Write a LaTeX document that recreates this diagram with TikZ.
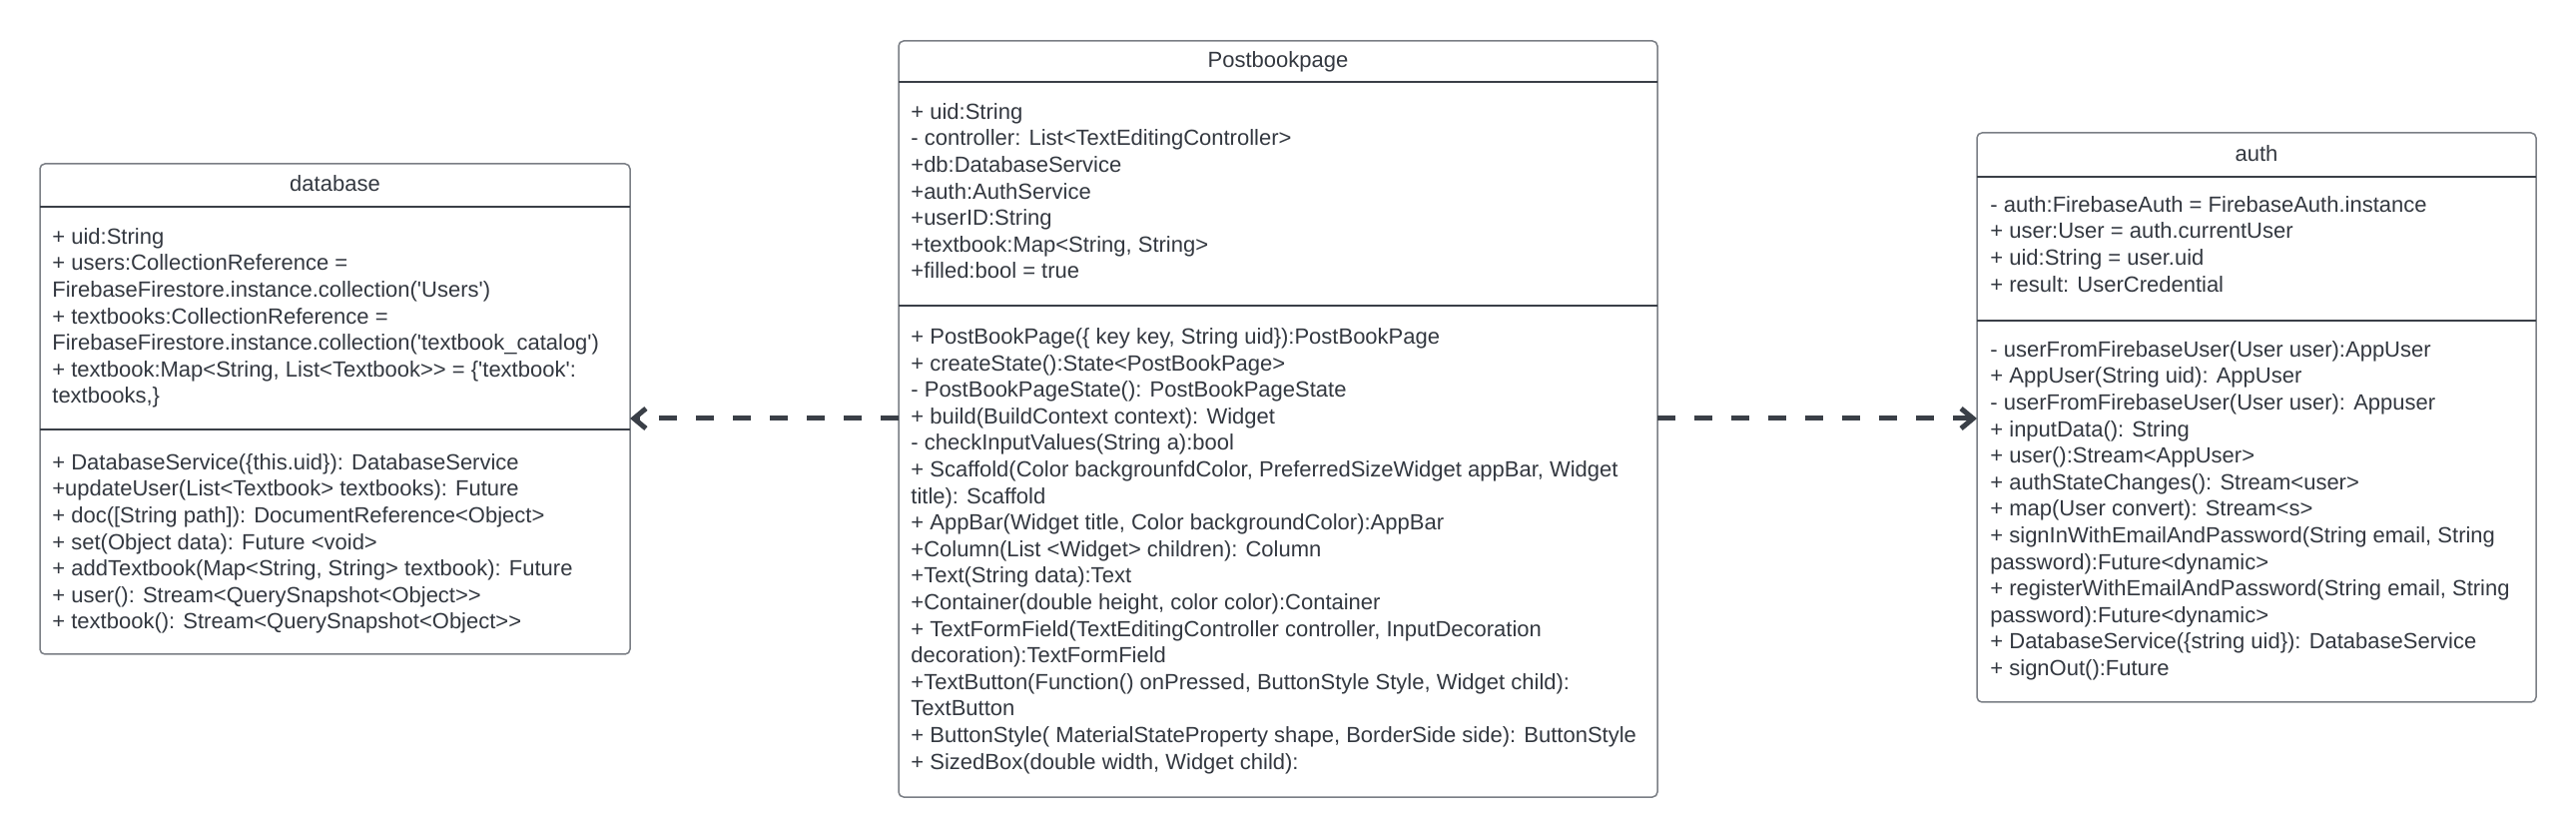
\documentclass[tikz,border=0pt]{standalone}
\usepackage{fontspec}
\setmainfont{Liberation Sans}
\usetikzlibrary{arrows.meta}
\definecolor{txt}{HTML}{333840}
\definecolor{bord}{HTML}{7A7E85}
\definecolor{sep}{HTML}{3A3F47}
\definecolor{arr}{HTML}{3A3F47}
\newcommand{\lnstrut}{\rule{0pt}{9pt}}
\begin{document}
\begin{tikzpicture}[x=0.5pt,y=-0.5pt,
 umlbox/.style={draw=bord, line width=0.75pt, rounded corners=2.5pt, inner sep=0pt, outer sep=0pt, anchor=north west, fill=white},
 clstitle/.style={anchor=base, inner sep=0pt, text=txt, font=\fontsize{11}{13.3}\selectfont},
 clsbody/.style={anchor=north west, inner sep=0pt, align=left, text=txt, font=\fontsize{11}{13.3}\selectfont},
 sepline/.style={draw=sep, line width=0.75pt},
 dep/.style={draw=arr, line width=2.5pt, dash pattern=on 9pt off 9.5pt, -{Straight Barb[length=6pt,width=10pt]}}
]
\useasboundingbox[fill=white] (0,0) rectangle (2580,838);

% boxes
\node[umlbox, minimum width=295.5pt, minimum height=245.5pt] (db) at (40,164) {};
\node[umlbox, minimum width=380pt, minimum height=378.5pt] (pb) at (900,41) {};
\node[umlbox, minimum width=280pt, minimum height=285pt] (au) at (1980,133) {};

% separator heights
\coordinate (dbh) at (0,207);
\coordinate (dbs) at (0,430);
\coordinate (pbh) at (0,82);
\coordinate (pbs) at (0,306);
\coordinate (auh) at (0,177);
\coordinate (aus) at (0,321);
\draw[sepline] (db.west |- dbh) -- (db.east |- dbh);
\draw[sepline] (db.west |- dbs) -- (db.east |- dbs);
\draw[sepline] (pb.west |- pbh) -- (pb.east |- pbh);
\draw[sepline] (pb.west |- pbs) -- (pb.east |- pbs);
\draw[sepline] (au.west |- auh) -- (au.east |- auh);
\draw[sepline] (au.west |- aus) -- (au.east |- aus);

% titles
\node[clstitle] (dbt) at (335.5,192) {database};
\node[clstitle] (pbt) at (1280,68) {Postbookpage};
\node[clstitle] (aut) at (2260,161.5) {auth};

% database
\node[clsbody] (dba) at (52,226) {\lnstrut+ uid:String\\
+ users:CollectionReference =\\
FirebaseFirestore.instance.collection(\textquotesingle Users\textquotesingle)\\
+ textbooks:CollectionReference =\\
FirebaseFirestore.instance.collection(\textquotesingle textbook\_catalog\textquotesingle)\\
+ textbook:Map<String, List<Textbook>{}> = \{\textquotesingle textbook\textquotesingle:\\
textbooks,\}};
\node[clsbody] (dbo) at (52,452) {\lnstrut+ DatabaseService(\{this.uid\}): DatabaseService\\
+updateUser(List<Textbook> textbooks): Future\\
+ doc([String path]): DocumentReference<Object>\\
+ set(Object data): Future <void>\\
+ addTextbook(Map<String, String> textbook): Future\\
+ user(): Stream<QuerySnapshot<Object>{}>\\
+ textbook(): Stream<QuerySnapshot<Object>{}>};

% Postbookpage
\node[clsbody] (pba) at (912,101) {\lnstrut+ uid:String\\
- controller: List<TextEditingController>\\
+db:DatabaseService\\
+auth:AuthService\\
+userID:String\\
+textbook:Map<String, String>\\
+filled:bool = true};
\node[clsbody] (pbo) at (912,326) {\lnstrut+ PostBookPage(\{ key key, String uid\}):PostBookPage\\
+ createState():State<PostBookPage>\\
- PostBookPageState(): PostBookPageState\\
+ build(BuildContext context): Widget\\
- checkInputValues(String a):bool\\
+ Scaffold(Color backgrounfdColor, PreferredSizeWidget appBar, Widget\\
title): Scaffold\\
+ AppBar(Widget title, Color backgroundColor):AppBar\\
+Column(List <Widget> children): Column\\
+Text(String data):Text\\
+Container(double height, color color):Container\\
+ TextFormField(TextEditingController controller, InputDecoration\\
decoration):TextFormField\\
+TextButton(Function() onPressed, ButtonStyle Style, Widget child):\\
TextButton\\
+ ButtonStyle( MaterialStateProperty shape, BorderSide side): ButtonStyle\\
+ SizedBox(double width, Widget child):};

% auth
\node[clsbody] (aua) at (1993,194) {\lnstrut- auth:FirebaseAuth = FirebaseAuth.instance\\
+ user:User = auth.currentUser\\
+ uid:String = user.uid\\
+ result: UserCredential};
\node[clsbody] (auo) at (1993,339) {\lnstrut- userFromFirebaseUser(User user):AppUser\\
+ AppUser(String uid): AppUser\\
- userFromFirebaseUser(User user): Appuser\\
+ inputData(): String\\
+ user():Stream<AppUser>\\
+ authStateChanges(): Stream<user>\\
+ map(User convert): Stream<s>\\
+ signInWithEmailAndPassword(String email, String\\
password):Future<dynamic>\\
+ registerWithEmailAndPassword(String email, String\\
password):Future<dynamic>\\
+ DatabaseService(\{string uid\}): DatabaseService\\
+ signOut():Future};

% dependencies
\coordinate (arry) at (0,419);
\draw[dep] (pb.west |- arry) -- (db.east |- arry);
\draw[dep] (pb.east |- arry) -- (au.west |- arry);
\end{tikzpicture}
\end{document}
